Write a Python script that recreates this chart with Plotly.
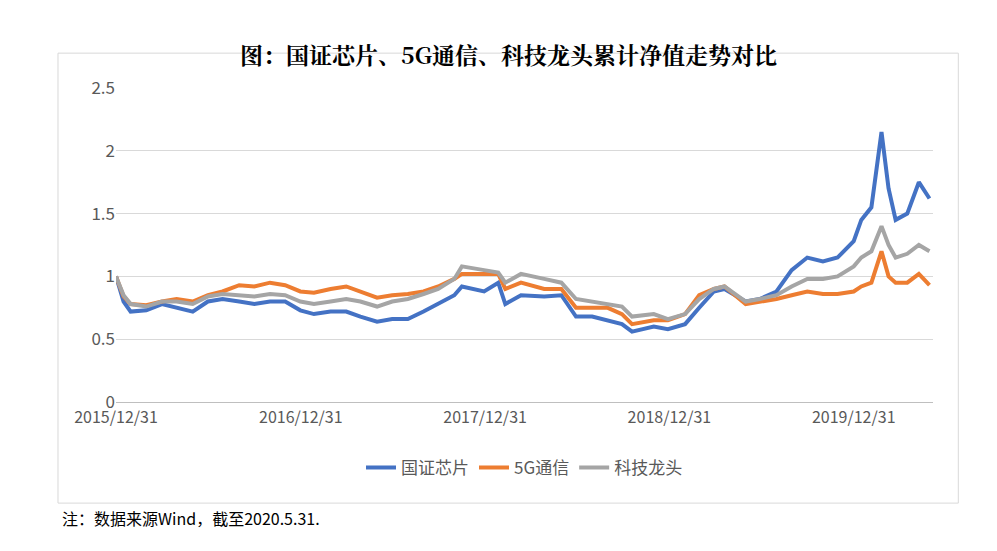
import plotly.graph_objects as go

dates = ["2015-12-31","2016-01-15","2016-01-29","2016-02-29","2016-03-31","2016-04-29","2016-05-31","2016-06-30","2016-07-29","2016-08-31","2016-09-30","2016-10-31","2016-11-30","2016-12-30",
"2017-01-26","2017-02-28","2017-03-31","2017-04-28","2017-05-31","2017-06-30","2017-07-31","2017-08-31","2017-09-29","2017-10-31","2017-11-15","2017-12-29",
"2018-01-26","2018-02-09","2018-03-12","2018-04-27","2018-05-31","2018-06-29","2018-07-31","2018-08-31","2018-09-28","2018-10-18","2018-11-30","2018-12-28",
"2019-01-31","2019-02-28","2019-03-29","2019-04-19","2019-05-31","2019-06-28","2019-07-31","2019-08-30","2019-09-30","2019-10-31","2019-11-29","2019-12-31",
"2020-01-15","2020-02-04","2020-02-24","2020-03-09","2020-03-23","2020-04-15","2020-05-08","2020-05-29"]
chip = [1.0,0.80,0.72,0.73,0.78,0.75,0.72,0.80,0.82,0.80,0.78,0.80,0.80,0.73,
0.70,0.72,0.72,0.68,0.64,0.66,0.66,0.72,0.78,0.85,0.92,0.88,
0.95,0.78,0.85,0.84,0.85,0.68,0.68,0.65,0.62,0.56,0.60,0.58,
0.62,0.75,0.88,0.90,0.80,0.82,0.88,1.05,1.15,1.12,1.15,1.28,
1.45,1.55,2.15,1.70,1.45,1.50,1.75,1.62]
g5 = [1.0,0.84,0.78,0.77,0.80,0.82,0.80,0.85,0.88,0.93,0.92,0.95,0.93,0.88,
0.87,0.90,0.92,0.88,0.83,0.85,0.86,0.88,0.92,0.98,1.02,1.02,
1.02,0.90,0.95,0.90,0.90,0.75,0.75,0.75,0.70,0.62,0.65,0.65,
0.70,0.85,0.90,0.92,0.78,0.80,0.82,0.85,0.88,0.86,0.86,0.88,
0.92,0.95,1.20,1.00,0.95,0.95,1.02,0.93]
tech = [1.0,0.85,0.78,0.76,0.80,0.80,0.78,0.84,0.86,0.85,0.84,0.86,0.85,0.80,
0.78,0.80,0.82,0.80,0.76,0.80,0.82,0.86,0.90,0.98,1.08,1.05,
1.03,0.95,1.02,0.98,0.95,0.82,0.80,0.78,0.76,0.68,0.70,0.66,
0.70,0.82,0.90,0.92,0.80,0.82,0.85,0.92,0.98,0.98,1.00,1.08,
1.15,1.20,1.40,1.25,1.15,1.18,1.25,1.20]
names = ["国证芯片","5G通信","科技龙头"]
colors = ["#4472C4","#ED7D31","#A5A5A5"]
tickvals = ["2015-12-31","2016-12-31","2017-12-31","2018-12-31","2019-12-31"]
ticktext = ["2015/12/31","2016/12/31","2017/12/31","2018/12/31","2019/12/31"]

fig = go.Figure()
for n, s, c in zip(names, [chip, g5, tech], colors):
    fig.add_trace(go.Scatter(x=dates, y=s, name=n, mode="lines", line=dict(color=c, width=4)))

font = "Noto Sans CJK SC"
fig.update_layout(
    width=997, height=551, margin=dict(l=108, r=72, t=80, b=157, autoexpand=False),
    paper_bgcolor="white", plot_bgcolor="white",
    font=dict(family=font, size=16, color="#595959"),
    showlegend=True,
    legend=dict(orientation="h", x=0.5, xanchor="center", y=-0.21, yanchor="middle", font=dict(size=17, color="#595959")),
    xaxis=dict(type="date", range=["2015-12-31","2020-06-05"], tickvals=tickvals, ticktext=ticktext, automargin=False,
               showgrid=False, showline=False, ticks="", tickfont=dict(size=16), ticklabelstandoff=4),
    yaxis=dict(range=[0,2.5], tickvals=[0,0.5,1,1.5,2,2.5], ticktext=["0","0.5","1","1.5","2","2.5"], automargin=False,
               showgrid=True, gridcolor="#D9D9D9", zeroline=True, zerolinecolor="#BFBFBF", zerolinewidth=1,
               ticks="", tickfont=dict(size=17)),
    shapes=[dict(type="rect", xref="paper", yref="paper", x0=-0.071, x1=1.031, y0=-0.322, y1=1.111,
                 line=dict(color="#D9D9D9", width=1))],
    annotations=[
        dict(text="<b>图：国证芯片、5G通信、科技龙头累计净值走势对比</b>", xref="paper", yref="paper", x=0.48, y=1.166,
             showarrow=False, font=dict(size=23, color="#000000", family="Noto Serif CJK SC, " + font)),
        dict(text="注：数据来源Wind，截至2020.5.31.", xref="paper", yref="paper", x=-0.069, y=-0.414,
             xanchor="left", showarrow=False, font=dict(size=16, color="#000000")),
    ],
)
fig.write_html("out.html")
